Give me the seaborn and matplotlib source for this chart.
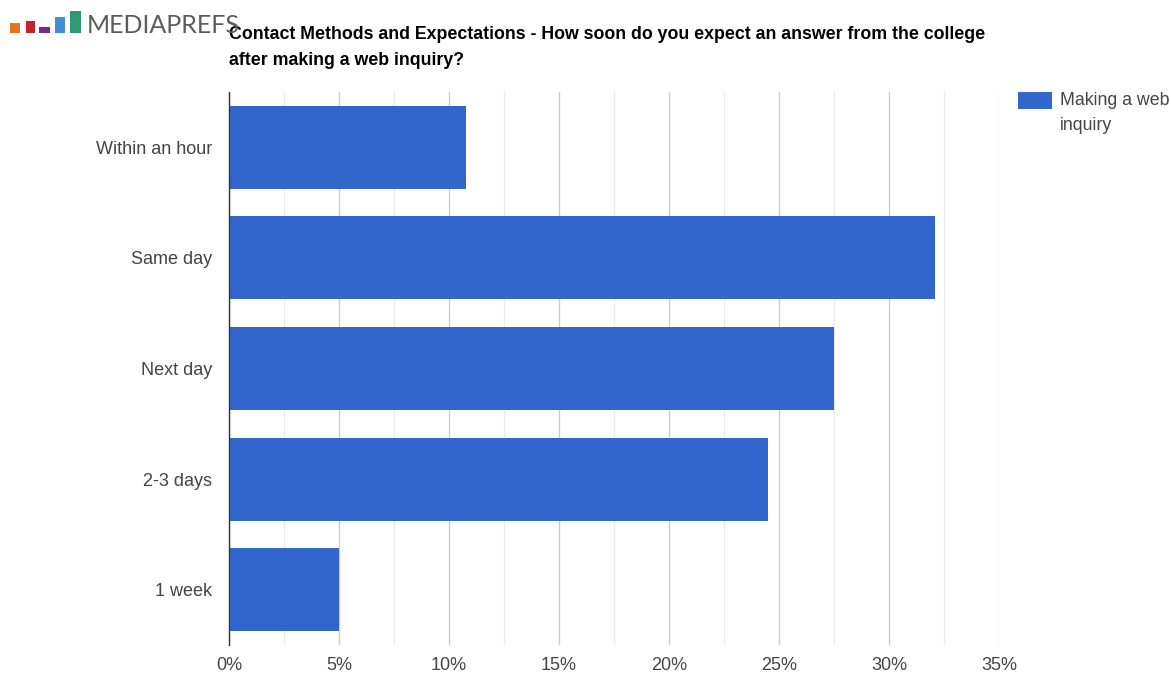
import matplotlib
matplotlib.use("Agg")
import matplotlib.pyplot as plt
from matplotlib.patches import Rectangle
from matplotlib.ticker import MultipleLocator, FuncFormatter
import pandas as pd
import seaborn as sns

categories = ["Within an hour", "Same day", "Next day", "2-3 days", "1 week"]
values = [10.75, 32.1, 27.5, 24.5, 5.0]
series_name = "Making a web inquiry"
legend_label = "Making a web\ninquiry"
title = ("Contact Methods and Expectations - How soon do you expect an answer from the college\n"
         "after making a web inquiry?")

df = pd.DataFrame({"category": categories, "value": values, "series": series_name})
bar_color = "#3366CC"

sns.set_theme(style="white")
plt.rcParams["font.family"] = ["Liberation Sans", "DejaVu Sans"]

W, H = 1171, 673
fig = plt.figure(figsize=(W / 100, H / 100), dpi=100)
ax = fig.add_axes([229 / W, 1 - 645 / H, (999 - 229) / W, (645 - 92) / H])

sns.barplot(data=df, x="value", y="category", hue="series", orient="h",
            palette=[bar_color], width=0.75, saturation=1, ax=ax, legend=False,
            linewidth=0)

ax.set_xlim(0, 35)
ax.xaxis.set_major_locator(MultipleLocator(5))
ax.xaxis.set_minor_locator(MultipleLocator(2.5))
ax.xaxis.set_major_formatter(FuncFormatter(lambda v, p: f"{v:.0f}%"))
ax.grid(axis="x", which="major", color="#cccccc", linewidth=1)
ax.grid(axis="x", which="minor", color="#ebebeb", linewidth=1)
ax.set_axisbelow(True)
for s in ["top", "right", "bottom"]:
    ax.spines[s].set_visible(False)
ax.spines["left"].set_color("#333333")
ax.spines["left"].set_linewidth(1)
ax.tick_params(axis="both", which="both", length=0, labelsize=13, colors="#444444")
ax.tick_params(axis="x", pad=9)
ax.tick_params(axis="y", pad=12)
ax.set_xlabel("")
ax.set_ylabel("")

fig.text(229 / W, 1 - 26 / H, title, ha="left", va="top", fontsize=12.8,
         fontweight="bold", color="#000000", linespacing=1.7)

# legend: swatch with a two-line label beside it
fig.patches.append(Rectangle((1018 / W, 1 - 109 / H), 34 / W, 17 / H,
                             transform=fig.transFigure, facecolor=bar_color,
                             edgecolor="none"))
fig.text(1060 / W, 1 - 92 / H, legend_label, ha="left", va="top", fontsize=12.8,
         color="#444444", linespacing=1.6)

# brand mark
logo_colors = ["#e8731e", "#c8202f", "#7b2a8c", "#3d8fd6", "#2e9a75"]
logo_boxes = [(10, 23, 10, 10), (26, 21, 9, 12), (39, 27, 11, 6), (55, 17, 10, 16), (70, 11, 11, 22)]
for c, (x, y, w, h) in zip(logo_colors, logo_boxes):
    fig.patches.append(Rectangle((x / W, 1 - (y + h) / H), w / W, h / H,
                                 transform=fig.transFigure, facecolor=c, edgecolor="none"))
fig.text(87 / W, 1 - 33 / H, "MEDIAPREFS", ha="left", va="baseline", fontsize=18,
         color="#5c5c5c", family=["Lato", "DejaVu Sans"])

fig.savefig("out.png", dpi=100)
